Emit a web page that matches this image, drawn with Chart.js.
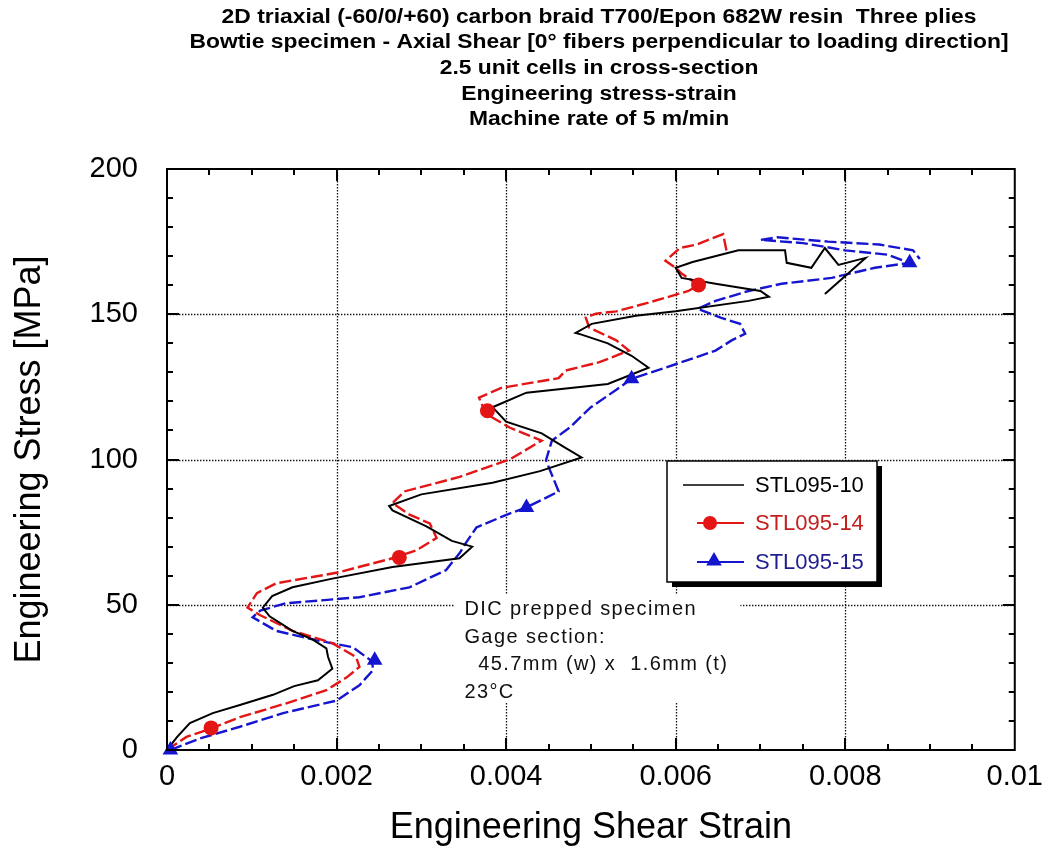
<!DOCTYPE html>
<html><head><meta charset="utf-8">
<script src="https://cdn.jsdelivr.net/npm/chart.js@4/dist/chart.umd.min.js"></script>
<style>html,body{margin:0;padding:0;background:#fff}#wrap{width:1053px;height:851px}</style>
</head><body><div id="wrap"><canvas id="c" width="1053" height="851"></canvas></div>
<script>
const titleLines = [
  '2D triaxial (-60/0/+60) carbon braid T700/Epon 682W resin  Three plies',
  'Bowtie specimen - Axial Shear [0\u00B0 fibers perpendicular to loading direction]',
  '2.5 unit cells in cross-section',
  'Engineering stress-strain',
  'Machine rate of 5 m/min'
];
const xAxisTitle = 'Engineering Shear Strain';
const yAxisTitle = 'Engineering Stress [MPa]';
const xTickValues = [0, 0.002, 0.004, 0.006, 0.008, 0.01];
const yTickValues = [0, 50, 100, 150, 200];
const seriesNames = ['STL095-10', 'STL095-14', 'STL095-15'];
const noteLines = ['DIC prepped specimen', 'Gage section:', '  45.7mm (w) x  1.6mm (t)', '23\u00B0C'];

// STL095-10 (black)
const s10Strain = [0, 0.00012, 0.00027, 0.00054, 0.00086, 0.00125, 0.00150, 0.00178, 0.00195, 0.00190, 0.00188, 0.00172, 0.00148, 0.00121, 0.00113, 0.00124, 0.00148, 0.00195, 0.00266, 0.00345, 0.00360, 0.00336, 0.00306, 0.00266, 0.00262, 0.00300, 0.00384, 0.00440, 0.00489, 0.00470, 0.00442, 0.00400, 0.00384, 0.00424, 0.00520, 0.00568, 0.00548, 0.00520, 0.00489, 0.00482, 0.00501, 0.00553, 0.00600, 0.00686, 0.00710, 0.00700, 0.00647, 0.00607, 0.00600, 0.00620, 0.00674, 0.00729, 0.00731, 0.00760, 0.00776, 0.00792, 0.00824, 0.00776];
const s10Stress = [0, 4.5, 9.3, 12.7, 15.5, 19, 22, 24, 28, 32, 35, 38, 41, 46, 49, 53, 56, 59, 63, 66, 70, 72, 77, 82.5, 84, 88, 92, 96, 100.7, 104, 109, 113, 118, 123, 126, 131.6, 135.7, 140, 143, 143.6, 146.7, 149.5, 151, 154.6, 156, 158, 160.5, 162.5, 166, 168, 172, 172, 167.7, 166, 172.8, 167, 169.4, 157];

// STL095-14 (red)
const s14Strain = [0, 0.00023, 0.00053, 0.00086, 0.00140, 0.00188, 0.00212, 0.00227, 0.00223, 0.00195, 0.00148, 0.00110, 0.00095, 0.00106, 0.00129, 0.00200, 0.00266, 0.00294, 0.00318, 0.00310, 0.00286, 0.00266, 0.00280, 0.00345, 0.00404, 0.00442, 0.00404, 0.00376, 0.00368, 0.00395, 0.00462, 0.00470, 0.00510, 0.00545, 0.00530, 0.00498, 0.00494, 0.00506, 0.00530, 0.00568, 0.00615, 0.00627, 0.00607, 0.00600, 0.00588, 0.00605, 0.00625, 0.00656, 0.00660];
const s14Stress = [0, 4.5, 7.5, 11.3, 16, 20.6, 25, 28.6, 32, 36.8, 41, 46.4, 49, 54, 57.4, 61, 66, 68.7, 73, 78, 81, 85, 89, 94, 100, 106.5, 111, 115.8, 121.3, 124.7, 128, 130.6, 133.5, 137.5, 141, 145.4, 148.8, 150.2, 151, 154, 158, 160, 164, 166, 168.4, 172.8, 174, 177.6, 171.8];
const s14MarkerStrain = [0.00052, 0.00274, 0.00378, 0.00627];
const s14MarkerStress = [7.6, 66.3, 116.8, 160.1];

// STL095-15 (blue)
const s15Strain = [0.00004, 0.00039, 0.00086, 0.00137, 0.00200, 0.00227, 0.00243, 0.00242, 0.00219, 0.00176, 0.00129, 0.00101, 0.00110, 0.00140, 0.00227, 0.00286, 0.00329, 0.00345, 0.00353, 0.00365, 0.00404, 0.00424, 0.00462, 0.00447, 0.00454, 0.00475, 0.00500, 0.00530, 0.00548, 0.00588, 0.00647, 0.00666, 0.00682, 0.00676, 0.00653, 0.00626, 0.00647, 0.00686, 0.00725, 0.00784, 0.00835, 0.00876, 0.00850, 0.00800, 0.00750, 0.00700, 0.00720, 0.00780, 0.00840, 0.00880, 0.00888];
const s15Stress = [0, 4, 8, 12.7, 17, 22.3, 27.5, 30.5, 35.4, 37.8, 41, 45.7, 48, 50.5, 52.6, 56, 61.9, 67.7, 71.5, 76.6, 81.4, 83.5, 89, 99.7, 106.5, 111, 118, 124, 127.8, 131.6, 137.5, 141, 143.3, 146.7, 148.8, 151.9, 154.6, 158, 160.5, 162.5, 166, 167.7, 170.5, 172, 174.5, 175.6, 176.5, 175, 174, 172, 169];
const s15MarkerStrain = [0.00004, 0.00245, 0.00424, 0.00548, 0.00876];
const s15MarkerStress = [0, 30.9, 83.5, 127.8, 167.7];

const pts = (xs, ys) => xs.map((x, i) => ({x: x, y: ys[i]}));
const BLACK = '#000000', RED = '#e31515', BLUE = '#1515cf';
const FONT = 'Liberation Sans, Arial, sans-serif';

function drawTri(ctx, x, y, r) {
  ctx.beginPath();
  for (let k = 0; k < 3; k++) {
    const a = -Math.PI / 2 + k * 2 * Math.PI / 3;
    const px = x + r * Math.cos(a), py = y + r * Math.sin(a);
    if (k === 0) ctx.moveTo(px, py); else ctx.lineTo(px, py);
  }
  ctx.closePath(); ctx.fill();
}

const decor = {
  id: 'decor',
  beforeDraw(chart) {
    const ctx = chart.ctx;
    ctx.save(); ctx.fillStyle = '#fff'; ctx.fillRect(0, 0, chart.width, chart.height); ctx.restore();
  },
  beforeDatasetsDraw(chart) {
    const ctx = chart.ctx, a = chart.chartArea, xs = chart.scales.x, ys = chart.scales.y;
    ctx.save();
    ctx.strokeStyle = '#111'; ctx.lineWidth = 1.3; ctx.setLineDash([1.4, 1.6]);
    xTickValues.slice(1, -1).forEach(v => {
      const p = Math.round(xs.getPixelForValue(v)) + 0.5;
      ctx.beginPath(); ctx.moveTo(p, a.top); ctx.lineTo(p, a.bottom); ctx.stroke();
    });
    yTickValues.slice(1, -1).forEach(v => {
      const p = Math.round(ys.getPixelForValue(v)) + 0.5;
      ctx.beginPath(); ctx.moveTo(a.left, p); ctx.lineTo(a.right, p); ctx.stroke();
    });
    ctx.setLineDash([]);
    // note box
    const nx = xs.getPixelForValue(0.00339), ny = ys.getPixelForValue(53.5);
    ctx.fillStyle = '#fff';
    ctx.fillRect(nx, ny, 286, 108);
    ctx.fillStyle = '#111';
    ctx.font = '20px ' + FONT;
    ctx.letterSpacing = '1.4px';
    ctx.textBaseline = 'middle'; ctx.textAlign = 'left';
    noteLines.forEach((t, i) => ctx.fillText(t, nx + 10, ny + 15 + i * 27.5));
    ctx.restore();
  },
  afterDatasetsDraw(chart) {
    const ctx = chart.ctx, a = chart.chartArea, xs = chart.scales.x, ys = chart.scales.y;
    ctx.save();
    ctx.strokeStyle = '#000'; ctx.lineWidth = 2;
    ctx.strokeRect(a.left, a.top, a.right - a.left, a.bottom - a.top);
    ctx.beginPath();
    for (let i = 1; i < 20; i++) {
      const v = i * 0.0005, p = Math.round(xs.getPixelForValue(v));
      const L = (i % 4 === 0) ? 12 : 6;
      ctx.moveTo(p, a.bottom); ctx.lineTo(p, a.bottom - L);
      ctx.moveTo(p, a.top); ctx.lineTo(p, a.top + L);
    }
    for (let i = 1; i < 20; i++) {
      const v = i * 10, p = Math.round(ys.getPixelForValue(v));
      const L = (i % 5 === 0) ? 12 : 6;
      ctx.moveTo(a.left, p); ctx.lineTo(a.left + L, p);
      ctx.moveTo(a.right, p); ctx.lineTo(a.right - L, p);
    }
    ctx.stroke();
    // legend
    const lx = 667, ly = 461, lw = 210, lh = 121;
    ctx.fillStyle = '#000'; ctx.fillRect(lx + 5, ly + 5, lw, lh);
    ctx.fillStyle = '#fff'; ctx.fillRect(lx, ly, lw, lh);
    ctx.lineWidth = 1.5; ctx.strokeStyle = '#000'; ctx.strokeRect(lx, ly, lw, lh);
    const rows = [
      {name: seriesNames[0], color: BLACK, text: '#000', y: ly + 24, x0: lx + 16, mark: null},
      {name: seriesNames[1], color: RED, text: '#c41e1e', y: ly + 62, x0: lx + 30, mark: 'c'},
      {name: seriesNames[2], color: BLUE, text: '#1e1e90', y: ly + 101, x0: lx + 30, mark: 't'}
    ];
    ctx.font = '22px ' + FONT; ctx.textBaseline = 'middle'; ctx.textAlign = 'left';
    rows.forEach(r => {
      ctx.strokeStyle = r.color; ctx.lineWidth = r.mark ? 2 : 1.5;
      ctx.beginPath(); ctx.moveTo(r.x0, r.y); ctx.lineTo(lx + 77, r.y); ctx.stroke();
      ctx.fillStyle = r.color;
      if (r.mark === 'c') { ctx.beginPath(); ctx.arc(lx + 43, r.y, 7, 0, 2 * Math.PI); ctx.fill(); }
      if (r.mark === 't') drawTri(ctx, lx + 47, r.y - 1, 9);
      ctx.fillStyle = r.text; ctx.fillText(r.name, lx + 88, r.y + 1);
    });
    ctx.restore();
  },
  afterDraw(chart) {
    const ctx = chart.ctx;
    ctx.save();
    ctx.font = 'bold 20px ' + FONT;
    ctx.fillStyle = '#000'; ctx.textBaseline = 'middle'; ctx.textAlign = 'center';
    const sx = 819 / ctx.measureText(titleLines[1]).width;
    titleLines.forEach((t, i) => {
      ctx.save(); ctx.translate(599, 17 + i * 25.7); ctx.scale(sx, 1);
      ctx.fillText(t, 0, 0); ctx.restore();
    });
    ctx.restore();
  }
};

const fmt = v => (Math.abs(v) < 1e-12 ? '0' : String(parseFloat(Number(v).toFixed(4))));

new Chart(document.getElementById('c'), {
  type: 'scatter',
  data: {
    datasets: [
      {label: seriesNames[1] + ' markers', data: pts(s14MarkerStrain, s14MarkerStress), showLine: false, pointStyle: 'circle', pointRadius: 7.5, backgroundColor: RED, borderColor: RED, borderWidth: 0, clip: false, order: 1},
      {label: seriesNames[2] + ' markers', data: pts(s15MarkerStrain, s15MarkerStress), showLine: false, pointStyle: 'triangle', pointRadius: 9, backgroundColor: BLUE, borderColor: BLUE, borderWidth: 0, clip: false, order: 1},
      {label: seriesNames[0], data: pts(s10Strain, s10Stress), showLine: true, borderColor: BLACK, borderWidth: 2, pointRadius: 0, tension: 0, order: 2},
      {label: seriesNames[1], data: pts(s14Strain, s14Stress), showLine: true, borderColor: RED, borderWidth: 2.4, borderDash: [12, 4], pointRadius: 0, tension: 0, order: 3},
      {label: seriesNames[2], data: pts(s15Strain, s15Stress), showLine: true, borderColor: BLUE, borderWidth: 2.4, borderDash: [12, 4], pointRadius: 0, tension: 0, order: 4}
    ]
  },
  options: {
    responsive: false, animation: false, devicePixelRatio: 1,
    layout: {padding: {top: 169, right: 36, bottom: 0, left: 0}},
    plugins: {legend: {display: false}, tooltip: {enabled: false}, title: {display: false}},
    scales: {
      x: {
        type: 'linear', min: 0, max: 0.01,
        afterBuildTicks: s => { s.ticks = xTickValues.map(v => ({value: v})); },
        afterFit: s => { s.height = 101; },
        ticks: {callback: fmt, color: '#000', font: {family: FONT, size: 29}, padding: 10, maxRotation: 0, autoSkip: false},
        grid: {display: false, drawTicks: false},
        border: {display: false},
        title: {display: true, text: xAxisTitle, color: '#000', font: {family: FONT, size: 36}, padding: {top: 0, bottom: 1}}
      },
      y: {
        type: 'linear', min: 0, max: 200,
        afterBuildTicks: s => { s.ticks = yTickValues.map(v => ({value: v})); },
        afterFit: s => { s.width = 167; },
        ticks: {callback: fmt, color: '#000', font: {family: FONT, size: 29}, padding: 29},
        grid: {display: false, drawTicks: false},
        border: {display: false},
        title: {display: true, text: yAxisTitle, color: '#000', font: {family: FONT, size: 36}, padding: {top: 8, bottom: 0}}
      }
    }
  },
  plugins: [decor]
});
</script></body></html>
